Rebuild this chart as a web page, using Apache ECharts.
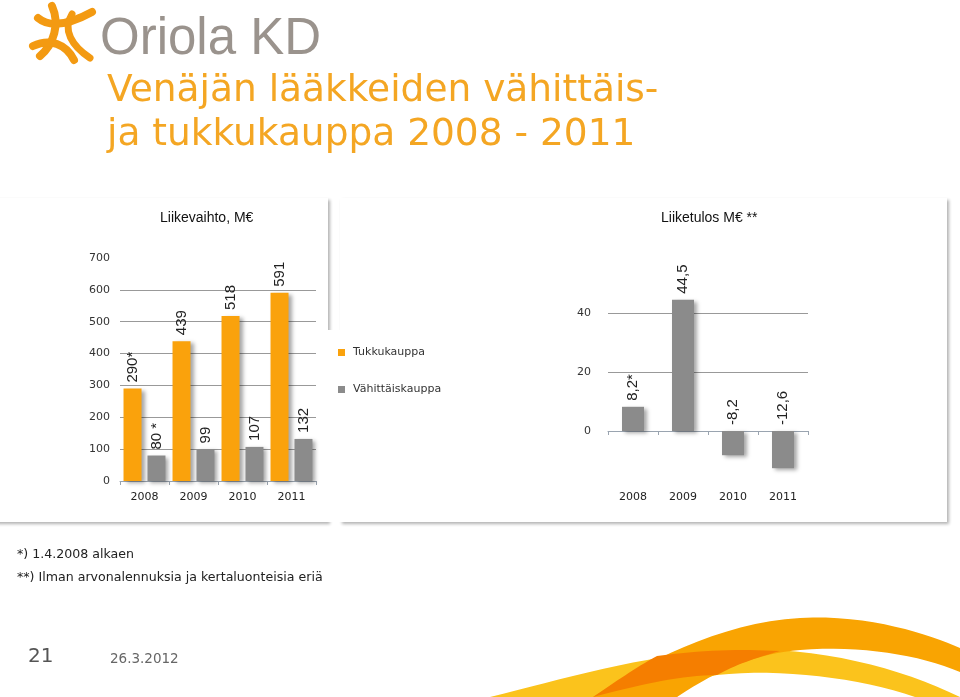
<!DOCTYPE html>
<html>
<head>
<meta charset="utf-8">
<script src="https://cdn.jsdelivr.net/npm/echarts@6/dist/echarts.min.js"></script>
<style>
html,body{margin:0;padding:0;background:#fff;}
#main{width:960px;height:697px;}
</style>
</head>
<body>
<div id="main"></div>
<script>
// ---- data ----
const years = ['2008', '2009', '2010', '2011'];
const wholesale = [290, 439, 518, 591];          // Tukkukauppa
const retail = [80, 99, 107, 132];               // Vähittäiskauppa
const wholesaleLabels = ['290*', '439', '518', '591'];
const retailLabels = ['80 *', '99', '107', '132'];
const operatingProfit = [8.2, 44.5, -8.2, -12.6]; // Liiketulos
const profitLabels = ['8,2*', '44,5', '-8,2', '-12,6'];
const leftTicks = [0, 100, 200, 300, 400, 500, 600, 700];
const rightTickLabels = [0, 20, 40];

const ORANGE = '#FAA20C';
const GRAY = '#8B8B8B';
const TITLE_ORANGE = '#F4A623';

// sample a chain of cubic beziers into polygon points (decoration only)
function bez(segs) {
  const pts = [];
  let cur = segs[0];
  pts.push(cur);
  for (let i = 1; i < segs.length; i++) {
    const s = segs[i];
    if (s.length === 2 && typeof s[0] === 'number') { pts.push(s); cur = s; continue; }
    const [c1, c2, e] = s;
    for (let t = 1; t <= 16; t++) {
      const u = t / 16, a = 1 - u;
      pts.push([
        a*a*a*cur[0] + 3*a*a*u*c1[0] + 3*a*u*u*c2[0] + u*u*u*e[0],
        a*a*a*cur[1] + 3*a*a*u*c1[1] + 3*a*u*u*c2[1] + u*u*u*e[1]
      ]);
    }
    cur = e;
  }
  return pts;
}

const chart = echarts.init(document.getElementById('main'));

const labelBase = {
  show: true, position: 'top', rotate: 90, align: 'left', verticalAlign: 'middle',
  distance: 6, fontSize: 15, color: '#222', fontFamily: 'Liberation Sans, Arial, sans-serif'
};
const barShadow = { shadowColor: 'rgba(0,0,0,0.35)', shadowBlur: 4, shadowOffsetX: 3, shadowOffsetY: 2 };

function logoStroke(p0, c1, c2, p1, w) {
  return { type: 'bezierCurve', shape: { x1: p0[0], y1: p0[1], cpx1: c1[0], cpy1: c1[1], cpx2: c2[0], cpy2: c2[1], x2: p1[0], y2: p1[1] },
    style: { stroke: '#F39A12', lineWidth: w, fill: null, lineCap: 'round' } };
}

const SANS = 'DejaVu Sans, sans-serif';
const ARIAL = 'Liberation Sans, Arial, sans-serif';

const option = {
  backgroundColor: '#fff',
  animation: false,
  title: [
    { text: 'Venäjän lääkkeiden vähittäis-\nja tukkukauppa 2008 - 2011', left: 102, top: 64,
      textStyle: { fontFamily: SANS, fontSize: 37.5, fontWeight: 'normal', color: TITLE_ORANGE, lineHeight: 44 } },
    { text: 'Liikevaihto, M€', left: 160, top: 211, padding: 0,
      textStyle: { fontFamily: ARIAL, fontSize: 14, fontWeight: 'normal', color: '#111' } },
    { text: 'Liiketulos M€ **', left: 661, top: 211, padding: 0,
      textStyle: { fontFamily: ARIAL, fontSize: 14, fontWeight: 'normal', color: '#111' } }
  ],
  legend: {
    data: ['Tukkukauppa', 'Vähittäiskauppa'],
    orient: 'vertical', left: 333, top: 342, itemWidth: 7, itemHeight: 7, itemGap: 26, icon: 'rect',
    textStyle: { fontFamily: SANS, fontSize: 11, color: '#333', padding: [0, 0, 0, 3] }
  },
  grid: [
    { left: 120, top: 258, width: 196, height: 223 },
    { left: 608, top: 254, width: 200, height: 236 }
  ],
  xAxis: [
    { type: 'category', gridIndex: 0, data: years,
      axisLine: { lineStyle: { color: '#9aa4b0' } },
      axisTick: { show: true, length: 4, lineStyle: { color: '#9aa4b0' } },
      axisLabel: { margin: 11, fontSize: 11, color: '#222', fontFamily: SANS } },
    { type: 'category', gridIndex: 1, data: years,
      axisLine: { onZero: true, lineStyle: { color: '#9aa4b0' } },
      axisTick: { show: true, length: 4, lineStyle: { color: '#9aa4b0' } },
      axisLabel: { margin: 2, fontSize: 11, color: '#222', fontFamily: SANS } }
  ],
  yAxis: [
    { type: 'value', gridIndex: 0, min: leftTicks[0], max: leftTicks[leftTicks.length - 1], interval: 100,
      axisLine: { show: false }, axisTick: { show: false },
      axisLabel: { margin: 10, fontSize: 11, color: '#333', fontFamily: SANS },
      splitLine: { show: true, showMinLine: false, showMaxLine: false, lineStyle: { color: '#999', width: 1 } } },
    { type: 'value', gridIndex: 1, min: -20, max: 60, interval: 20,
      axisLine: { show: false }, axisTick: { show: false },
      axisLabel: { margin: 17, fontSize: 11, color: '#333', fontFamily: SANS,
        formatter: v => rightTickLabels.indexOf(v) >= 0 ? String(v) : '' },
      splitLine: { show: true, showMinLine: false, showMaxLine: false, lineStyle: { color: '#999', width: 1 } } }
  ],
  series: [
    { name: 'Tukkukauppa', type: 'bar', xAxisIndex: 0, yAxisIndex: 0, data: wholesale,
      barWidth: 18, barGap: '33%', itemStyle: Object.assign({ color: ORANGE }, barShadow),
      label: Object.assign({}, labelBase, { formatter: p => wholesaleLabels[p.dataIndex] }) },
    { name: 'Vähittäiskauppa', type: 'bar', xAxisIndex: 0, yAxisIndex: 0, data: retail,
      barWidth: 18, barGap: '33%', itemStyle: Object.assign({ color: GRAY }, barShadow),
      label: Object.assign({}, labelBase, { formatter: p => retailLabels[p.dataIndex] }) },
    { name: 'Liiketulos', type: 'bar', xAxisIndex: 1, yAxisIndex: 1, data: operatingProfit,
      barWidth: 22, itemStyle: Object.assign({ color: GRAY }, barShadow),
      label: Object.assign({}, labelBase, { formatter: p => profitLabels[p.dataIndex] }) }
  ],
  graphic: [
    // panels (drawn under chart)
    { type: 'rect', z: -10, shape: { x: -10, y: 198, width: 338, height: 324 },
      style: { fill: '#fff', shadowColor: 'rgba(0,0,0,0.3)', shadowBlur: 3, shadowOffsetX: 2, shadowOffsetY: 2 } },
    { type: 'rect', z: -10, shape: { x: 340, y: 198, width: 607, height: 324 },
      style: { fill: '#fff', shadowColor: 'rgba(0,0,0,0.3)', shadowBlur: 3, shadowOffsetX: 2, shadowOffsetY: 2 } },
    { type: 'rect', z: -9, shape: { x: -10, y: 330, width: 360, height: 192 }, style: { fill: '#fff' } },
    // logo mark
    logoStroke([38, 18], [50, 28], [70, 24], [92, 12], 8),
    logoStroke([52, 6], [60, 24], [54, 44], [40, 56], 8),
    logoStroke([72, 14], [62, 30], [72, 46], [90, 58], 7),
    logoStroke([33, 46], [50, 38], [66, 44], [74, 60], 8),
    { type: 'text', left: 100, top: 14, style: { text: 'Oriola KD', fontSize: 51, fontFamily: ARIAL, fill: '#9A938D' } },
    // footnotes
    { type: 'text', left: 17, top: 548, style: { text: '*) 1.4.2008 alkaen', fontSize: 12.6, fontFamily: SANS, fill: '#222' } },
    { type: 'text', left: 17, top: 571, style: { text: '**) Ilman arvonalennuksia ja kertaluonteisia eriä', fontSize: 12.6, fontFamily: SANS, fill: '#222' } },
    { type: 'text', left: 28, top: 647, style: { text: '21', fontSize: 20, fontFamily: SANS, fill: '#555' } },
    { type: 'text', left: 110, top: 652, style: { text: '26.3.2012', fontSize: 13.5, fontFamily: SANS, fill: '#666' } },
    // swoosh
    { type: 'polygon', z: -5, shape: { points: bez([[490, 697], [[560, 680], [640, 655], [730, 650]], [[820, 646], [900, 668], [960, 697]], [915, 697], [[860, 678], [780, 668], [717, 675]], [[690, 680], [682, 690], [677, 697]]]) }, style: { fill: '#FBC31C' } },
    { type: 'polygon', z: -4, shape: { points: bez([[593, 697], [[640, 665], [720, 622], [800, 618]], [[870, 614], [930, 635], [960, 648]], [960, 672], [[920, 655], [860, 645], [800, 650]], [[760, 653], [720, 668], [677, 697]]]) }, style: { fill: '#F9A402' } },
    { type: 'polygon', z: -3, shape: { points: bez([[593, 697], [[615, 682], [635, 668], [657, 656]], [[700, 650], [740, 649], [780, 651]], [[755, 658], [735, 665], [717, 675]], [[680, 676], [650, 682], [593, 697]]]) }, style: { fill: '#F57E00' } }
  ]
};

chart.setOption(option);
</script>
</body>
</html>
